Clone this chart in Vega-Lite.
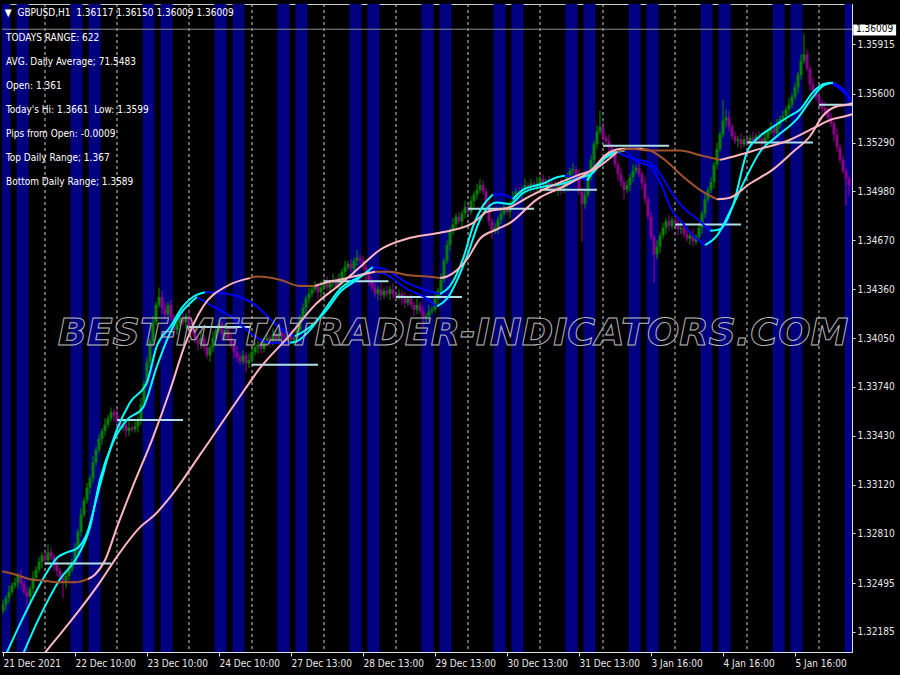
{
"$schema":"https://vega.github.io/schema/vega-lite/v6.json",
"width":850,"height":648,"autosize":{"type":"none"},
"padding":{"left":2,"top":4,"right":48,"bottom":23},
"background":"#000000",
"config":{"view":{"stroke":"#c8c8c8","strokeWidth":1},"font":"Liberation Sans Narrow, DejaVu Sans Condensed, sans-serif"},
"resolve":{"axis":{"x":"independent","y":"independent"}},
"datasets":{
"bands":[{"b0":-1.5,"b1":2.5},{"b0":4.5,"b1":8.5},{"b0":22.5,"b1":26.5},{"b0":28.5,"b1":32.5},{"b0":46.5,"b1":50.5},{"b0":52.5,"b1":56.5},{"b0":70.5,"b1":74.5},{"b0":76.5,"b1":80.5},{"b0":91.5,"b1":95.5},{"b0":97.5,"b1":101.5},{"b0":115.5,"b1":119.5},{"b0":121.5,"b1":125.5},{"b0":139.5,"b1":143.5},{"b0":145.5,"b1":149.5},{"b0":163.5,"b1":167.5},{"b0":169.5,"b1":173.5},{"b0":187.5,"b1":191.5},{"b0":193.5,"b1":197.5},{"b0":208.5,"b1":212.5},{"b0":214.5,"b1":218.5},{"b0":232.5,"b1":236.5},{"b0":238.5,"b1":242.5},{"b0":256.5,"b1":260.5},{"b0":262.5,"b1":266.5},{"b0":280.5,"b1":284.5}],
"seps":[{"i":14},{"i":38},{"i":62},{"i":83},{"i":107},{"i":131},{"i":155},{"i":179},{"i":200},{"i":224},{"i":248},{"i":272}],
"levels":[{"a":14,"b":36,"p":1.3262},{"a":38,"b":60,"p":1.3353},{"a":62,"b":82.5,"p":1.3412},{"a":83,"b":105,"p":1.3388},{"a":107,"b":128.5,"p":1.3441},{"a":131,"b":153,"p":1.3431},{"a":155,"b":177,"p":1.3487},{"a":179,"b":198,"p":1.3499},{"a":200,"b":222,"p":1.3527},{"a":224,"b":246,"p":1.3477},{"a":248,"b":270,"p":1.3529},{"a":272,"b":283,"p":1.3553}],
"cdl":[
{"i":0,"o":1.3232,"h":1.3239,"l":1.3230,"c":1.3236},{"i":1,"o":1.3236,"h":1.3242,"l":1.3232,"c":1.3240},{"i":2,"o":1.3240,"h":1.3248,"l":1.3237,"c":1.3244},{"i":3,"o":1.3244,"h":1.3250,"l":1.3242,"c":1.3248},{"i":4,"o":1.3248,"h":1.3253,"l":1.3246,"c":1.3250},{"i":5,"o":1.3250,"h":1.3256,"l":1.3246,"c":1.3254},{"i":6,"o":1.3254,"h":1.3258,"l":1.3246,"c":1.3249},{"i":7,"o":1.3249,"h":1.3251,"l":1.3242,"c":1.3244},{"i":8,"o":1.3244,"h":1.3247,"l":1.3231,"c":1.3241},{"i":9,"o":1.3241,"h":1.3248,"l":1.3237,"c":1.3246},
{"i":10,"o":1.3246,"h":1.3257,"l":1.3243,"c":1.3253},{"i":11,"o":1.3253,"h":1.3260,"l":1.3251,"c":1.3258},{"i":12,"o":1.3258,"h":1.3266,"l":1.3256,"c":1.3263},{"i":13,"o":1.3263,"h":1.3269,"l":1.3259,"c":1.3267},{"i":14,"o":1.3267,"h":1.3271,"l":1.3261,"c":1.3264},{"i":15,"o":1.3264,"h":1.3274,"l":1.3262,"c":1.3269},{"i":16,"o":1.3269,"h":1.3272,"l":1.3264,"c":1.3266},{"i":17,"o":1.3266,"h":1.3268,"l":1.3257,"c":1.3261},{"i":18,"o":1.3261,"h":1.3265,"l":1.3254,"c":1.3257},{"i":19,"o":1.3257,"h":1.3259,"l":1.3251,"c":1.3253},
{"i":20,"o":1.3253,"h":1.3256,"l":1.3240,"c":1.3250},{"i":21,"o":1.3250,"h":1.3256,"l":1.3246,"c":1.3254},{"i":22,"o":1.3254,"h":1.3262,"l":1.3251,"c":1.3258},{"i":23,"o":1.3258,"h":1.3265,"l":1.3256,"c":1.3263},{"i":24,"o":1.3263,"h":1.3275,"l":1.3261,"c":1.3272},{"i":25,"o":1.3272,"h":1.3284,"l":1.3268,"c":1.3282},{"i":26,"o":1.3282,"h":1.3297,"l":1.3279,"c":1.3293},{"i":27,"o":1.3293,"h":1.3304,"l":1.3291,"c":1.3302},{"i":28,"o":1.3302,"h":1.3313,"l":1.3300,"c":1.3310},{"i":29,"o":1.3310,"h":1.3318,"l":1.3306,"c":1.3316},
{"i":30,"o":1.3316,"h":1.3330,"l":1.3313,"c":1.3326},{"i":31,"o":1.3326,"h":1.3336,"l":1.3324,"c":1.3334},{"i":32,"o":1.3334,"h":1.3344,"l":1.3332,"c":1.3341},{"i":33,"o":1.3341,"h":1.3348,"l":1.3337,"c":1.3346},{"i":34,"o":1.3346,"h":1.3354,"l":1.3343,"c":1.3350},{"i":35,"o":1.3350,"h":1.3356,"l":1.3348,"c":1.3354},{"i":36,"o":1.3354,"h":1.3361,"l":1.3352,"c":1.3358},{"i":37,"o":1.3358,"h":1.3360,"l":1.3352,"c":1.3356},{"i":38,"o":1.3356,"h":1.3360,"l":1.3349,"c":1.3352},{"i":39,"o":1.3352,"h":1.3354,"l":1.3346,"c":1.3348},
{"i":40,"o":1.3348,"h":1.3353,"l":1.3346,"c":1.3350},{"i":41,"o":1.3350,"h":1.3352,"l":1.3342,"c":1.3346},{"i":42,"o":1.3346,"h":1.3352,"l":1.3343,"c":1.3348},{"i":43,"o":1.3348,"h":1.3350,"l":1.3345,"c":1.3347},{"i":44,"o":1.3347,"h":1.3352,"l":1.3345,"c":1.3349},{"i":45,"o":1.3349,"h":1.3355,"l":1.3345,"c":1.3353},{"i":46,"o":1.3353,"h":1.3367,"l":1.3350,"c":1.3363},{"i":47,"o":1.3363,"h":1.3378,"l":1.3361,"c":1.3376},{"i":48,"o":1.3376,"h":1.3393,"l":1.3374,"c":1.3390},{"i":49,"o":1.3390,"h":1.3405,"l":1.3386,"c":1.3403},
{"i":50,"o":1.3403,"h":1.3419,"l":1.3400,"c":1.3415},{"i":51,"o":1.3415,"h":1.3428,"l":1.3413,"c":1.3426},{"i":52,"o":1.3426,"h":1.3437,"l":1.3424,"c":1.3431},{"i":53,"o":1.3431,"h":1.3435,"l":1.3420,"c":1.3424},{"i":54,"o":1.3424,"h":1.3428,"l":1.3417,"c":1.3420},{"i":55,"o":1.3420,"h":1.3428,"l":1.3418,"c":1.3426},{"i":56,"o":1.3426,"h":1.3429,"l":1.3416,"c":1.3418},{"i":57,"o":1.3418,"h":1.3420,"l":1.3406,"c":1.3410},{"i":58,"o":1.3410,"h":1.3418,"l":1.3407,"c":1.3414},{"i":59,"o":1.3414,"h":1.3420,"l":1.3412,"c":1.3418},
{"i":60,"o":1.3418,"h":1.3421,"l":1.3413,"c":1.3415},{"i":61,"o":1.3415,"h":1.3421,"l":1.3411,"c":1.3419},{"i":62,"o":1.3419,"h":1.3423,"l":1.3411,"c":1.3414},{"i":63,"o":1.3414,"h":1.3416,"l":1.3407,"c":1.3409},{"i":64,"o":1.3409,"h":1.3412,"l":1.3402,"c":1.3404},{"i":65,"o":1.3404,"h":1.3406,"l":1.3397,"c":1.3401},{"i":66,"o":1.3401,"h":1.3409,"l":1.3398,"c":1.3405},{"i":67,"o":1.3405,"h":1.3407,"l":1.3397,"c":1.3399},{"i":68,"o":1.3399,"h":1.3402,"l":1.3392,"c":1.3394},{"i":69,"o":1.3394,"h":1.3401,"l":1.3390,"c":1.3399},
{"i":70,"o":1.3399,"h":1.3409,"l":1.3396,"c":1.3405},{"i":71,"o":1.3405,"h":1.3412,"l":1.3403,"c":1.3410},{"i":72,"o":1.3410,"h":1.3417,"l":1.3408,"c":1.3414},{"i":73,"o":1.3414,"h":1.3416,"l":1.3403,"c":1.3407},{"i":74,"o":1.3407,"h":1.3414,"l":1.3404,"c":1.3410},{"i":75,"o":1.3410,"h":1.3412,"l":1.3403,"c":1.3405},{"i":76,"o":1.3405,"h":1.3408,"l":1.3399,"c":1.3401},{"i":77,"o":1.3401,"h":1.3403,"l":1.3392,"c":1.3396},{"i":78,"o":1.3396,"h":1.3400,"l":1.3390,"c":1.3393},{"i":79,"o":1.3393,"h":1.3395,"l":1.3388,"c":1.3390},
{"i":80,"o":1.3390,"h":1.3397,"l":1.3388,"c":1.3394},{"i":81,"o":1.3394,"h":1.3396,"l":1.3383,"c":1.3389},{"i":82,"o":1.3389,"h":1.3395,"l":1.3386,"c":1.3391},{"i":83,"o":1.3391,"h":1.3398,"l":1.3389,"c":1.3396},{"i":84,"o":1.3396,"h":1.3402,"l":1.3394,"c":1.3399},{"i":85,"o":1.3399,"h":1.3403,"l":1.3395,"c":1.3401},{"i":86,"o":1.3401,"h":1.3405,"l":1.3395,"c":1.3398},{"i":87,"o":1.3398,"h":1.3405,"l":1.3396,"c":1.3403},{"i":88,"o":1.3403,"h":1.3408,"l":1.3401,"c":1.3405},{"i":89,"o":1.3405,"h":1.3407,"l":1.3399,"c":1.3403},
{"i":90,"o":1.3403,"h":1.3411,"l":1.3400,"c":1.3407},{"i":91,"o":1.3407,"h":1.3409,"l":1.3402,"c":1.3404},{"i":92,"o":1.3404,"h":1.3411,"l":1.3402,"c":1.3408},{"i":93,"o":1.3408,"h":1.3410,"l":1.3401,"c":1.3405},{"i":94,"o":1.3405,"h":1.3409,"l":1.3400,"c":1.3403},{"i":95,"o":1.3403,"h":1.3409,"l":1.3401,"c":1.3407},{"i":96,"o":1.3407,"h":1.3410,"l":1.3402,"c":1.3404},{"i":97,"o":1.3404,"h":1.3407,"l":1.3400,"c":1.3405},{"i":98,"o":1.3405,"h":1.3414,"l":1.3402,"c":1.3410},{"i":99,"o":1.3410,"h":1.3420,"l":1.3408,"c":1.3418},
{"i":100,"o":1.3418,"h":1.3427,"l":1.3416,"c":1.3424},{"i":101,"o":1.3424,"h":1.3432,"l":1.3420,"c":1.3430},{"i":102,"o":1.3430,"h":1.3437,"l":1.3427,"c":1.3433},{"i":103,"o":1.3433,"h":1.3438,"l":1.3431,"c":1.3436},{"i":104,"o":1.3436,"h":1.3441,"l":1.3434,"c":1.3438},{"i":105,"o":1.3438,"h":1.3440,"l":1.3430,"c":1.3434},{"i":106,"o":1.3434,"h":1.3441,"l":1.3431,"c":1.3437},{"i":107,"o":1.3437,"h":1.3443,"l":1.3435,"c":1.3441},{"i":108,"o":1.3441,"h":1.3444,"l":1.3435,"c":1.3437},{"i":109,"o":1.3437,"h":1.3442,"l":1.3433,"c":1.3440},
{"i":110,"o":1.3440,"h":1.3446,"l":1.3437,"c":1.3442},{"i":111,"o":1.3442,"h":1.3444,"l":1.3436,"c":1.3438},{"i":112,"o":1.3438,"h":1.3446,"l":1.3436,"c":1.3443},{"i":113,"o":1.3443,"h":1.3449,"l":1.3439,"c":1.3447},{"i":114,"o":1.3447,"h":1.3454,"l":1.3444,"c":1.3450},{"i":115,"o":1.3450,"h":1.3454,"l":1.3448,"c":1.3452},{"i":116,"o":1.3452,"h":1.3455,"l":1.3447,"c":1.3449},{"i":117,"o":1.3449,"h":1.3456,"l":1.3445,"c":1.3454},{"i":118,"o":1.3454,"h":1.3461,"l":1.3451,"c":1.3456},{"i":119,"o":1.3456,"h":1.3458,"l":1.3452,"c":1.3454},
{"i":120,"o":1.3454,"h":1.3457,"l":1.3448,"c":1.3450},{"i":121,"o":1.3450,"h":1.3452,"l":1.3441,"c":1.3445},{"i":122,"o":1.3445,"h":1.3449,"l":1.3438,"c":1.3441},{"i":123,"o":1.3441,"h":1.3443,"l":1.3435,"c":1.3437},{"i":124,"o":1.3437,"h":1.3440,"l":1.3431,"c":1.3433},{"i":125,"o":1.3433,"h":1.3438,"l":1.3429,"c":1.3436},{"i":126,"o":1.3436,"h":1.3440,"l":1.3429,"c":1.3432},{"i":127,"o":1.3432,"h":1.3437,"l":1.3430,"c":1.3435},{"i":128,"o":1.3435,"h":1.3438,"l":1.3431,"c":1.3433},{"i":129,"o":1.3433,"h":1.3438,"l":1.3429,"c":1.3436},
{"i":130,"o":1.3436,"h":1.3440,"l":1.3430,"c":1.3433},{"i":131,"o":1.3433,"h":1.3435,"l":1.3429,"c":1.3431},{"i":132,"o":1.3431,"h":1.3436,"l":1.3429,"c":1.3433},{"i":133,"o":1.3433,"h":1.3435,"l":1.3426,"c":1.3430},{"i":134,"o":1.3430,"h":1.3434,"l":1.3424,"c":1.3427},{"i":135,"o":1.3427,"h":1.3432,"l":1.3425,"c":1.3430},{"i":136,"o":1.3430,"h":1.3433,"l":1.3424,"c":1.3426},{"i":137,"o":1.3426,"h":1.3428,"l":1.3419,"c":1.3423},{"i":138,"o":1.3423,"h":1.3430,"l":1.3420,"c":1.3426},{"i":139,"o":1.3426,"h":1.3428,"l":1.3420,"c":1.3422},
{"i":140,"o":1.3422,"h":1.3425,"l":1.3412,"c":1.3418},{"i":141,"o":1.3418,"h":1.3421,"l":1.3414,"c":1.3419},{"i":142,"o":1.3419,"h":1.3426,"l":1.3416,"c":1.3422},{"i":143,"o":1.3422,"h":1.3425,"l":1.3420,"c":1.3423},{"i":144,"o":1.3423,"h":1.3433,"l":1.3421,"c":1.3430},{"i":145,"o":1.3430,"h":1.3437,"l":1.3426,"c":1.3435},{"i":146,"o":1.3435,"h":1.3446,"l":1.3432,"c":1.3442},{"i":147,"o":1.3442,"h":1.3456,"l":1.3440,"c":1.3454},{"i":148,"o":1.3454,"h":1.3467,"l":1.3452,"c":1.3464},{"i":149,"o":1.3464,"h":1.3475,"l":1.3460,"c":1.3473},
{"i":150,"o":1.3473,"h":1.3481,"l":1.3470,"c":1.3477},{"i":151,"o":1.3477,"h":1.3484,"l":1.3475,"c":1.3482},{"i":152,"o":1.3482,"h":1.3485,"l":1.3477,"c":1.3479},{"i":153,"o":1.3479,"h":1.3486,"l":1.3475,"c":1.3484},{"i":154,"o":1.3484,"h":1.3492,"l":1.3481,"c":1.3488},{"i":155,"o":1.3488,"h":1.3490,"l":1.3483,"c":1.3485},{"i":156,"o":1.3485,"h":1.3495,"l":1.3483,"c":1.3492},{"i":157,"o":1.3492,"h":1.3498,"l":1.3488,"c":1.3496},{"i":158,"o":1.3496,"h":1.3503,"l":1.3493,"c":1.3499},{"i":159,"o":1.3499,"h":1.3506,"l":1.3497,"c":1.3502},
{"i":160,"o":1.3502,"h":1.3505,"l":1.3496,"c":1.3498},{"i":161,"o":1.3498,"h":1.3500,"l":1.3486,"c":1.3490},{"i":162,"o":1.3490,"h":1.3494,"l":1.3476,"c":1.3479},{"i":163,"o":1.3479,"h":1.3481,"l":1.3468,"c":1.3473},{"i":164,"o":1.3473,"h":1.3478,"l":1.3471,"c":1.3475},{"i":165,"o":1.3475,"h":1.3482,"l":1.3471,"c":1.3480},{"i":166,"o":1.3480,"h":1.3488,"l":1.3477,"c":1.3484},{"i":167,"o":1.3484,"h":1.3490,"l":1.3482,"c":1.3488},{"i":168,"o":1.3488,"h":1.3491,"l":1.3483,"c":1.3485},{"i":169,"o":1.3485,"h":1.3492,"l":1.3481,"c":1.3490},
{"i":170,"o":1.3490,"h":1.3498,"l":1.3487,"c":1.3494},{"i":171,"o":1.3494,"h":1.3500,"l":1.3492,"c":1.3498},{"i":172,"o":1.3498,"h":1.3501,"l":1.3494,"c":1.3496},{"i":173,"o":1.3496,"h":1.3501,"l":1.3492,"c":1.3499},{"i":174,"o":1.3499,"h":1.3506,"l":1.3496,"c":1.3502},{"i":175,"o":1.3502,"h":1.3504,"l":1.3497,"c":1.3499},{"i":176,"o":1.3499,"h":1.3506,"l":1.3497,"c":1.3503},{"i":177,"o":1.3503,"h":1.3505,"l":1.3497,"c":1.3501},{"i":178,"o":1.3501,"h":1.3507,"l":1.3498,"c":1.3503},{"i":179,"o":1.3503,"h":1.3508,"l":1.3501,"c":1.3506},
{"i":180,"o":1.3506,"h":1.3509,"l":1.3500,"c":1.3502},{"i":181,"o":1.3502,"h":1.3506,"l":1.3498,"c":1.3504},{"i":182,"o":1.3504,"h":1.3508,"l":1.3498,"c":1.3501},{"i":183,"o":1.3501,"h":1.3504,"l":1.3499,"c":1.3502},{"i":184,"o":1.3502,"h":1.3505,"l":1.3497,"c":1.3499},{"i":185,"o":1.3499,"h":1.3504,"l":1.3495,"c":1.3502},{"i":186,"o":1.3502,"h":1.3506,"l":1.3496,"c":1.3499},{"i":187,"o":1.3499,"h":1.3505,"l":1.3497,"c":1.3503},{"i":188,"o":1.3503,"h":1.3510,"l":1.3501,"c":1.3507},{"i":189,"o":1.3507,"h":1.3513,"l":1.3503,"c":1.3511},
{"i":190,"o":1.3511,"h":1.3516,"l":1.3508,"c":1.3512},{"i":191,"o":1.3512,"h":1.3514,"l":1.3507,"c":1.3509},{"i":192,"o":1.3509,"h":1.3512,"l":1.3496,"c":1.3498},{"i":193,"o":1.3498,"h":1.3500,"l":1.3466,"c":1.3490},{"i":194,"o":1.3490,"h":1.3499,"l":1.3487,"c":1.3496},{"i":195,"o":1.3496,"h":1.3509,"l":1.3494,"c":1.3507},{"i":196,"o":1.3507,"h":1.3521,"l":1.3505,"c":1.3518},{"i":197,"o":1.3518,"h":1.3530,"l":1.3514,"c":1.3528},{"i":198,"o":1.3528,"h":1.3540,"l":1.3525,"c":1.3536},{"i":199,"o":1.3536,"h":1.3549,"l":1.3534,"c":1.3539},
{"i":200,"o":1.3539,"h":1.3542,"l":1.3530,"c":1.3532},{"i":201,"o":1.3532,"h":1.3534,"l":1.3526,"c":1.3530},{"i":202,"o":1.3530,"h":1.3534,"l":1.3523,"c":1.3526},{"i":203,"o":1.3526,"h":1.3528,"l":1.3520,"c":1.3522},{"i":204,"o":1.3522,"h":1.3525,"l":1.3513,"c":1.3515},{"i":205,"o":1.3515,"h":1.3517,"l":1.3505,"c":1.3509},{"i":206,"o":1.3509,"h":1.3513,"l":1.3501,"c":1.3504},{"i":207,"o":1.3504,"h":1.3506,"l":1.3493,"c":1.3499},{"i":208,"o":1.3499,"h":1.3505,"l":1.3497,"c":1.3502},{"i":209,"o":1.3502,"h":1.3509,"l":1.3498,"c":1.3507},
{"i":210,"o":1.3507,"h":1.3515,"l":1.3504,"c":1.3511},{"i":211,"o":1.3511,"h":1.3515,"l":1.3509,"c":1.3513},{"i":212,"o":1.3513,"h":1.3516,"l":1.3507,"c":1.3509},{"i":213,"o":1.3509,"h":1.3511,"l":1.3499,"c":1.3503},{"i":214,"o":1.3503,"h":1.3507,"l":1.3490,"c":1.3493},{"i":215,"o":1.3493,"h":1.3495,"l":1.3480,"c":1.3482},{"i":216,"o":1.3482,"h":1.3485,"l":1.3467,"c":1.3469},{"i":217,"o":1.3469,"h":1.3471,"l":1.3440,"c":1.3458},{"i":218,"o":1.3458,"h":1.3467,"l":1.3455,"c":1.3463},{"i":219,"o":1.3463,"h":1.3472,"l":1.3459,"c":1.3470},
{"i":220,"o":1.3470,"h":1.3478,"l":1.3468,"c":1.3475},{"i":221,"o":1.3475,"h":1.3481,"l":1.3471,"c":1.3479},{"i":222,"o":1.3479,"h":1.3483,"l":1.3473,"c":1.3476},{"i":223,"o":1.3476,"h":1.3482,"l":1.3474,"c":1.3480},{"i":224,"o":1.3480,"h":1.3483,"l":1.3476,"c":1.3478},{"i":225,"o":1.3478,"h":1.3480,"l":1.3470,"c":1.3474},{"i":226,"o":1.3474,"h":1.3479,"l":1.3471,"c":1.3475},{"i":227,"o":1.3475,"h":1.3477,"l":1.3469,"c":1.3471},{"i":228,"o":1.3471,"h":1.3474,"l":1.3466,"c":1.3468},{"i":229,"o":1.3468,"h":1.3472,"l":1.3464,"c":1.3470},
{"i":230,"o":1.3470,"h":1.3474,"l":1.3463,"c":1.3466},{"i":231,"o":1.3466,"h":1.3471,"l":1.3464,"c":1.3469},{"i":232,"o":1.3469,"h":1.3478,"l":1.3467,"c":1.3475},{"i":233,"o":1.3475,"h":1.3486,"l":1.3471,"c":1.3484},{"i":234,"o":1.3484,"h":1.3497,"l":1.3481,"c":1.3493},{"i":235,"o":1.3493,"h":1.3501,"l":1.3491,"c":1.3499},{"i":236,"o":1.3499,"h":1.3507,"l":1.3497,"c":1.3504},{"i":237,"o":1.3504,"h":1.3517,"l":1.3500,"c":1.3515},{"i":238,"o":1.3515,"h":1.3529,"l":1.3512,"c":1.3525},{"i":239,"o":1.3525,"h":1.3536,"l":1.3523,"c":1.3534},
{"i":240,"o":1.3534,"h":1.3556,"l":1.3532,"c":1.3543},{"i":241,"o":1.3543,"h":1.3550,"l":1.3539,"c":1.3545},{"i":242,"o":1.3545,"h":1.3549,"l":1.3536,"c":1.3539},{"i":243,"o":1.3539,"h":1.3541,"l":1.3531,"c":1.3533},{"i":244,"o":1.3533,"h":1.3536,"l":1.3528,"c":1.3530},{"i":245,"o":1.3530,"h":1.3533,"l":1.3526,"c":1.3531},{"i":246,"o":1.3531,"h":1.3535,"l":1.3525,"c":1.3528},{"i":247,"o":1.3528,"h":1.3533,"l":1.3526,"c":1.3531},{"i":248,"o":1.3531,"h":1.3534,"l":1.3527,"c":1.3529},{"i":249,"o":1.3529,"h":1.3534,"l":1.3525,"c":1.3532},
{"i":250,"o":1.3532,"h":1.3536,"l":1.3527,"c":1.3530},{"i":251,"o":1.3530,"h":1.3535,"l":1.3528,"c":1.3533},{"i":252,"o":1.3533,"h":1.3536,"l":1.3529,"c":1.3531},{"i":253,"o":1.3531,"h":1.3533,"l":1.3525,"c":1.3529},{"i":254,"o":1.3529,"h":1.3536,"l":1.3526,"c":1.3532},{"i":255,"o":1.3532,"h":1.3538,"l":1.3530,"c":1.3536},{"i":256,"o":1.3536,"h":1.3542,"l":1.3534,"c":1.3539},{"i":257,"o":1.3539,"h":1.3541,"l":1.3531,"c":1.3535},{"i":258,"o":1.3535,"h":1.3544,"l":1.3532,"c":1.3540},{"i":259,"o":1.3540,"h":1.3546,"l":1.3538,"c":1.3544},
{"i":260,"o":1.3544,"h":1.3549,"l":1.3542,"c":1.3546},{"i":261,"o":1.3546,"h":1.3552,"l":1.3542,"c":1.3550},{"i":262,"o":1.3550,"h":1.3557,"l":1.3547,"c":1.3553},{"i":263,"o":1.3553,"h":1.3560,"l":1.3551,"c":1.3558},{"i":264,"o":1.3558,"h":1.3567,"l":1.3556,"c":1.3564},{"i":265,"o":1.3564,"h":1.3574,"l":1.3560,"c":1.3572},{"i":266,"o":1.3572,"h":1.3585,"l":1.3569,"c":1.3581},{"i":267,"o":1.3581,"h":1.3598,"l":1.3579,"c":1.3585},{"i":268,"o":1.3585,"h":1.3588,"l":1.3574,"c":1.3576},{"i":269,"o":1.3576,"h":1.3578,"l":1.3562,"c":1.3566},
{"i":270,"o":1.3566,"h":1.3570,"l":1.3559,"c":1.3562},{"i":271,"o":1.3562,"h":1.3564,"l":1.3556,"c":1.3558},{"i":272,"o":1.3558,"h":1.3561,"l":1.3552,"c":1.3554},{"i":273,"o":1.3554,"h":1.3556,"l":1.3547,"c":1.3551},{"i":274,"o":1.3551,"h":1.3555,"l":1.3546,"c":1.3549},{"i":275,"o":1.3549,"h":1.3551,"l":1.3543,"c":1.3545},{"i":276,"o":1.3545,"h":1.3548,"l":1.3539,"c":1.3541},{"i":277,"o":1.3541,"h":1.3543,"l":1.3530,"c":1.3534},{"i":278,"o":1.3534,"h":1.3538,"l":1.3523,"c":1.3526},{"i":279,"o":1.3526,"h":1.3528,"l":1.3516,"c":1.3518},
{"i":280,"o":1.3518,"h":1.3521,"l":1.3509,"c":1.3511},{"i":281,"o":1.3511,"h":1.3513,"l":1.3489,"c":1.3506},{"i":282,"o":1.3506,"h":1.3508,"l":1.3495,"c":1.3502}
],
"ma":[
{"s":"a1","k":"cyan","i":0,"p":1.3200},{"s":"a1","k":"cyan","i":6.3,"p":1.3226},{"s":"a1","k":"cyan","i":13.3,"p":1.3252},{"s":"a1","k":"cyan","i":18.3,"p":1.3266},{"s":"a1","k":"cyan","i":21.3,"p":1.3269},{"s":"a1","k":"cyan","i":25,"p":1.3272},{"s":"a1","k":"cyan","i":28,"p":1.3281},{"s":"a1","k":"cyan","i":31.3,"p":1.3304},{"s":"a1","k":"cyan","i":34.7,"p":1.3328},{"s":"a1","k":"cyan","i":38,"p":1.3347},{"s":"a1","k":"cyan","i":42.3,"p":1.3364},{"s":"a1","k":"cyan","i":48,"p":1.3377},{"s":"a1","k":"cyan","i":51.3,"p":1.3400},{"s":"a1","k":"cyan","i":55.7,"p":1.3412},{"s":"a1","k":"cyan","i":60,"p":1.3425},{"s":"a1","k":"cyan","i":63.3,"p":1.3431},{"s":"a1","k":"cyan","i":67.3,"p":1.3434},
{"s":"a2","k":"blue","i":67.3,"p":1.3434},{"s":"a2","k":"blue","i":74.7,"p":1.3433},{"s":"a2","k":"blue","i":79,"p":1.3431},{"s":"a2","k":"blue","i":84.7,"p":1.3425},{"s":"a2","k":"blue","i":89,"p":1.3417},{"s":"a2","k":"blue","i":93.3,"p":1.3410},{"s":"a2","k":"blue","i":97.3,"p":1.3406},
{"s":"a3","k":"cyan","i":97.3,"p":1.3406},{"s":"a3","k":"cyan","i":102.3,"p":1.3412},{"s":"a3","k":"cyan","i":108,"p":1.3423},{"s":"a3","k":"cyan","i":112.3,"p":1.3434},{"s":"a3","k":"cyan","i":118,"p":1.3442},{"s":"a3","k":"cyan","i":123.3,"p":1.3450},
{"s":"a4","k":"blue","i":123.3,"p":1.3450},{"s":"a4","k":"blue","i":126.7,"p":1.3449},{"s":"a4","k":"blue","i":134.7,"p":1.3440},{"s":"a4","k":"blue","i":140,"p":1.3436},{"s":"a4","k":"blue","i":145.7,"p":1.3433},
{"s":"a5","k":"cyan","i":145.7,"p":1.3433},{"s":"a5","k":"cyan","i":149,"p":1.3438},{"s":"a5","k":"cyan","i":153.3,"p":1.3455},{"s":"a5","k":"cyan","i":156.7,"p":1.3476},{"s":"a5","k":"cyan","i":160,"p":1.3489},{"s":"a5","k":"cyan","i":163.3,"p":1.3496},
{"s":"a6","k":"blue","i":163.3,"p":1.3496},{"s":"a6","k":"blue","i":166.7,"p":1.3496},{"s":"a6","k":"blue","i":170,"p":1.3493},
{"s":"a7","k":"cyan","i":170,"p":1.3493},{"s":"a7","k":"cyan","i":173.3,"p":1.3499},{"s":"a7","k":"cyan","i":180,"p":1.3503},{"s":"a7","k":"cyan","i":184.7,"p":1.3507},{"s":"a7","k":"cyan","i":187.3,"p":1.3508},
{"s":"a8","k":"blue","i":187.3,"p":1.3508},{"s":"a8","k":"blue","i":190.7,"p":1.3507},{"s":"a8","k":"blue","i":194.7,"p":1.3505},
{"s":"a9","k":"cyan","i":194.7,"p":1.3505},{"s":"a9","k":"cyan","i":198,"p":1.3514},{"s":"a9","k":"cyan","i":201.3,"p":1.3521},{"s":"a9","k":"cyan","i":204.7,"p":1.3523},
{"s":"a10","k":"blue","i":204.7,"p":1.3523},{"s":"a10","k":"blue","i":211.3,"p":1.3518},{"s":"a10","k":"blue","i":214.7,"p":1.3517},{"s":"a10","k":"blue","i":218,"p":1.3512},{"s":"a10","k":"blue","i":222.3,"p":1.3499},{"s":"a10","k":"blue","i":225.7,"p":1.3490},{"s":"a10","k":"blue","i":232.3,"p":1.3479},{"s":"a10","k":"blue","i":235.7,"p":1.3473},
{"s":"a11","k":"cyan","i":235.7,"p":1.3473},{"s":"a11","k":"cyan","i":239,"p":1.3474},{"s":"a11","k":"cyan","i":243.3,"p":1.3489},{"s":"a11","k":"cyan","i":248,"p":1.3523},{"s":"a11","k":"cyan","i":252.3,"p":1.3533},{"s":"a11","k":"cyan","i":256.7,"p":1.3539},{"s":"a11","k":"cyan","i":262.3,"p":1.3546},{"s":"a11","k":"cyan","i":265.7,"p":1.3550},{"s":"a11","k":"cyan","i":270,"p":1.3561},{"s":"a11","k":"cyan","i":273.3,"p":1.3566},{"s":"a11","k":"cyan","i":275.7,"p":1.3567},
{"s":"a12","k":"blue","i":275.7,"p":1.3567},{"s":"a12","k":"blue","i":279,"p":1.3563},{"s":"a12","k":"blue","i":281.3,"p":1.3559},{"s":"a12","k":"blue","i":283,"p":1.3555},
{"s":"b1","k":"cyan","i":5.7,"p":1.3200},{"s":"b1","k":"cyan","i":11.7,"p":1.3226},{"s":"b1","k":"cyan","i":19,"p":1.3252},{"s":"b1","k":"cyan","i":24.7,"p":1.3266},{"s":"b1","k":"cyan","i":29,"p":1.3285},{"s":"b1","k":"cyan","i":32.3,"p":1.3315},{"s":"b1","k":"cyan","i":36.7,"p":1.3339},{"s":"b1","k":"cyan","i":41.3,"p":1.3353},{"s":"b1","k":"cyan","i":46.7,"p":1.3361},{"s":"b1","k":"cyan","i":51.3,"p":1.3387},{"s":"b1","k":"cyan","i":54.7,"p":1.3404},{"s":"b1","k":"cyan","i":59,"p":1.3420},{"s":"b1","k":"cyan","i":62.3,"p":1.3427},{"s":"b1","k":"cyan","i":64.7,"p":1.3431},
{"s":"b2","k":"blue","i":64.7,"p":1.3431},{"s":"b2","k":"blue","i":70,"p":1.3425},{"s":"b2","k":"blue","i":75.7,"p":1.3419},{"s":"b2","k":"blue","i":81.3,"p":1.3410},{"s":"b2","k":"blue","i":85.7,"p":1.3404},{"s":"b2","k":"blue","i":89,"p":1.3402},{"s":"b2","k":"blue","i":95.7,"p":1.3402},
{"s":"b3","k":"cyan","i":95.7,"p":1.3402},{"s":"b3","k":"cyan","i":98,"p":1.3403},{"s":"b3","k":"cyan","i":102.3,"p":1.3410},{"s":"b3","k":"cyan","i":108,"p":1.3425},{"s":"b3","k":"cyan","i":112.3,"p":1.3436},{"s":"b3","k":"cyan","i":118,"p":1.3443},{"s":"b3","k":"cyan","i":122.3,"p":1.3447},
{"s":"b4","k":"blue","i":122.3,"p":1.3447},{"s":"b4","k":"blue","i":126.7,"p":1.3446},{"s":"b4","k":"blue","i":134.7,"p":1.3436},{"s":"b4","k":"blue","i":141.3,"p":1.3430},{"s":"b4","k":"blue","i":144.7,"p":1.3425},
{"s":"b5","k":"cyan","i":144.7,"p":1.3425},{"s":"b5","k":"cyan","i":148,"p":1.3430},{"s":"b5","k":"cyan","i":154.7,"p":1.3457},{"s":"b5","k":"cyan","i":159,"p":1.3480},{"s":"b5","k":"cyan","i":164.7,"p":1.3491},{"s":"b5","k":"cyan","i":169,"p":1.3490},{"s":"b5","k":"cyan","i":173.3,"p":1.3497},{"s":"b5","k":"cyan","i":180,"p":1.3501},{"s":"b5","k":"cyan","i":186.7,"p":1.3503},{"s":"b5","k":"cyan","i":191.3,"p":1.3506},{"s":"b5","k":"cyan","i":196.7,"p":1.3510},{"s":"b5","k":"cyan","i":200,"p":1.3518},{"s":"b5","k":"cyan","i":204.7,"p":1.3523},{"s":"b5","k":"cyan","i":207.3,"p":1.3524},
{"s":"b6","k":"blue","i":207.3,"p":1.3524},{"s":"b6","k":"blue","i":211.3,"p":1.3517},{"s":"b6","k":"blue","i":215.7,"p":1.3514},{"s":"b6","k":"blue","i":219,"p":1.3504},{"s":"b6","k":"blue","i":223.3,"p":1.3485},{"s":"b6","k":"blue","i":225.7,"p":1.3480},{"s":"b6","k":"blue","i":230,"p":1.3470},{"s":"b6","k":"blue","i":234,"p":1.3464},
{"s":"b7","k":"cyan","i":234,"p":1.3464},{"s":"b7","k":"cyan","i":238,"p":1.3470},{"s":"b7","k":"cyan","i":243.3,"p":1.3489},{"s":"b7","k":"cyan","i":248,"p":1.3508},{"s":"b7","k":"cyan","i":252.3,"p":1.3523},{"s":"b7","k":"cyan","i":258,"p":1.3533},{"s":"b7","k":"cyan","i":264.7,"p":1.3544},{"s":"b7","k":"cyan","i":270,"p":1.3558},{"s":"b7","k":"cyan","i":273.3,"p":1.3565},{"s":"b7","k":"cyan","i":276.7,"p":1.3567},
{"s":"b8","k":"blue","i":276.7,"p":1.3567},{"s":"b8","k":"blue","i":280,"p":1.3563},{"s":"b8","k":"blue","i":281.3,"p":1.3560},{"s":"b8","k":"blue","i":283,"p":1.3555},
{"s":"c1","k":"brown","i":-0.3,"p":1.3257},{"s":"c1","k":"brown","i":4,"p":1.3255},{"s":"c1","k":"brown","i":9,"p":1.3252},{"s":"c1","k":"brown","i":14,"p":1.3251},{"s":"c1","k":"brown","i":19,"p":1.3250},{"s":"c1","k":"brown","i":24,"p":1.3250},{"s":"c1","k":"brown","i":28.3,"p":1.3252},
{"s":"c2","k":"pink","i":28.3,"p":1.3252},{"s":"c2","k":"pink","i":30.7,"p":1.3255},{"s":"c2","k":"pink","i":34,"p":1.3264},{"s":"c2","k":"pink","i":38,"p":1.3285},{"s":"c2","k":"pink","i":43.3,"p":1.3311},{"s":"c2","k":"pink","i":50,"p":1.3342},{"s":"c2","k":"pink","i":55.7,"p":1.3372},{"s":"c2","k":"pink","i":60.7,"p":1.3401},{"s":"c2","k":"pink","i":66.7,"p":1.3425},{"s":"c2","k":"pink","i":74.7,"p":1.3438},{"s":"c2","k":"pink","i":82.3,"p":1.3443},
{"s":"c3","k":"brown","i":82.3,"p":1.3443},{"s":"c3","k":"brown","i":84.7,"p":1.3444},{"s":"c3","k":"brown","i":92.3,"p":1.3442},{"s":"c3","k":"brown","i":99,"p":1.3438},{"s":"c3","k":"brown","i":104,"p":1.3438},
{"s":"c4","k":"pink","i":104,"p":1.3438},{"s":"c4","k":"pink","i":107.3,"p":1.3440},{"s":"c4","k":"pink","i":112.3,"p":1.3442},{"s":"c4","k":"pink","i":119,"p":1.3445},{"s":"c4","k":"pink","i":124,"p":1.3447},
{"s":"c5","k":"brown","i":124,"p":1.3447},{"s":"c5","k":"brown","i":129,"p":1.3447},{"s":"c5","k":"brown","i":134.7,"p":1.3445},{"s":"c5","k":"brown","i":141.3,"p":1.3444},{"s":"c5","k":"brown","i":145.7,"p":1.3443},
{"s":"c6","k":"pink","i":145.7,"p":1.3443},{"s":"c6","k":"pink","i":148,"p":1.3444},{"s":"c6","k":"pink","i":154.7,"p":1.3455},{"s":"c6","k":"pink","i":159,"p":1.3468},{"s":"c6","k":"pink","i":164.7,"p":1.3474},{"s":"c6","k":"pink","i":169,"p":1.3478},{"s":"c6","k":"pink","i":178,"p":1.3493},{"s":"c6","k":"pink","i":186.7,"p":1.3501},{"s":"c6","k":"pink","i":195.7,"p":1.3511},{"s":"c6","k":"pink","i":202.3,"p":1.3523},{"s":"c6","k":"pink","i":206.7,"p":1.3525},{"s":"c6","k":"pink","i":213.3,"p":1.3525},
{"s":"c7","k":"brown","i":213.3,"p":1.3525},{"s":"c7","k":"brown","i":215.7,"p":1.3524},{"s":"c7","k":"brown","i":221.3,"p":1.3517},{"s":"c7","k":"brown","i":225.7,"p":1.3509},{"s":"c7","k":"brown","i":232.3,"p":1.3499},{"s":"c7","k":"brown","i":238,"p":1.3493},
{"s":"c8","k":"pink","i":238,"p":1.3493},{"s":"c8","k":"pink","i":242.3,"p":1.3494},{"s":"c8","k":"pink","i":249,"p":1.3503},{"s":"c8","k":"pink","i":256.7,"p":1.3512},{"s":"c8","k":"pink","i":263.3,"p":1.3523},{"s":"c8","k":"pink","i":269,"p":1.3533},{"s":"c8","k":"pink","i":273.3,"p":1.3546},{"s":"c8","k":"pink","i":278,"p":1.3552},{"s":"c8","k":"pink","i":281.3,"p":1.3553},{"s":"c8","k":"pink","i":283,"p":1.3554},
{"s":"d1","k":"pink","i":11.7,"p":1.3200},{"s":"d1","k":"pink","i":19,"p":1.3217},{"s":"d1","k":"pink","i":25.7,"p":1.3233},{"s":"d1","k":"pink","i":32.3,"p":1.3250},{"s":"d1","k":"pink","i":39,"p":1.3269},{"s":"d1","k":"pink","i":45.7,"p":1.3285},{"s":"d1","k":"pink","i":50.7,"p":1.3293},{"s":"d1","k":"pink","i":55.7,"p":1.3304},{"s":"d1","k":"pink","i":65.7,"p":1.3331},{"s":"d1","k":"pink","i":78.3,"p":1.3366},{"s":"d1","k":"pink","i":85.7,"p":1.3386},{"s":"d1","k":"pink","i":95.7,"p":1.3407},{"s":"d1","k":"pink","i":104,"p":1.3426},{"s":"d1","k":"pink","i":112.3,"p":1.3439},{"s":"d1","k":"pink","i":119,"p":1.3450},{"s":"d1","k":"pink","i":125.7,"p":1.3461},{"s":"d1","k":"pink","i":134.7,"p":1.3468},{"s":"d1","k":"pink","i":143.3,"p":1.3471},{"s":"d1","k":"pink","i":149,"p":1.3473},{"s":"d1","k":"pink","i":156.7,"p":1.3478},{"s":"d1","k":"pink","i":161.3,"p":1.3485},{"s":"d1","k":"pink","i":169,"p":1.3488},{"s":"d1","k":"pink","i":175.7,"p":1.3495},{"s":"d1","k":"pink","i":182.3,"p":1.3501},{"s":"d1","k":"pink","i":191.3,"p":1.3508},{"s":"d1","k":"pink","i":198,"p":1.3513},{"s":"d1","k":"pink","i":204.7,"p":1.3523},
{"s":"d2","k":"brown","i":204.7,"p":1.3523},{"s":"d2","k":"brown","i":209,"p":1.3525},{"s":"d2","k":"brown","i":215.7,"p":1.3524},{"s":"d2","k":"brown","i":225.7,"p":1.3524},{"s":"d2","k":"brown","i":232.3,"p":1.3521},{"s":"d2","k":"brown","i":239,"p":1.3518},
{"s":"d3","k":"pink","i":239,"p":1.3518},{"s":"d3","k":"pink","i":243.3,"p":1.3520},{"s":"d3","k":"pink","i":252.3,"p":1.3525},{"s":"d3","k":"pink","i":261.3,"p":1.3530},{"s":"d3","k":"pink","i":270,"p":1.3538},{"s":"d3","k":"pink","i":276.7,"p":1.3544},{"s":"d3","k":"pink","i":281.3,"p":1.3546},{"s":"d3","k":"pink","i":283,"p":1.3547}
]
},
"layer":[
{"data":{"name":"bands"},"mark":{"type":"rect","color":"#000080","clip":true},
 "encoding":{"x":{"field":"b0","type":"quantitative","scale":{"domain":[-0.33,283],"nice":false,"zero":false},"axis":null},"x2":{"field":"b1"}}},
{"data":{"name":"seps"},"mark":{"type":"rule","color":"#d0d0d0","strokeWidth":1,"strokeDash":[3,3]},
 "encoding":{"x":{"field":"i","type":"quantitative","scale":{"domain":[-0.33,283],"nice":false,"zero":false},"axis":null}}},
{"data":{"name":"cdl"},"mark":{"type":"rule","strokeWidth":1,"clip":true},
 "encoding":{
  "x":{"field":"i","type":"quantitative","scale":{"domain":[-0.33,283],"nice":false,"zero":false},
   "axis":{"title":null,"grid":false,"values":[0,24,48,72,96,120,144,168,192,216,240,264],
    "labelExpr":"['21 Dec 2021','22 Dec 10:00','23 Dec 10:00','24 Dec 10:00','27 Dec 13:00','28 Dec 13:00','29 Dec 13:00','30 Dec 13:00','31 Dec 13:00','3 Jan 16:00','4 Jan 16:00','5 Jan 16:00'][round(datum.value/24)]",
    "labelAlign":"left","labelBaseline":"top","labelPadding":2,"tickSize":4,"tickColor":"#e0e0e0","domainColor":"#e0e0e0","labelColor":"#e8e8e8","labelFontSize":10,"labelOverlap":false,"labelBound":false,"labelFlush":false}},
  "y":{"field":"l","type":"quantitative","scale":{"domain":[1.32058,1.36169],"nice":false,"zero":false},
   "axis":{"title":null,"grid":false,"orient":"right","values":[1.32185,1.32495,1.3281,1.3312,1.3343,1.3374,1.3405,1.3436,1.3467,1.3498,1.3529,1.356,1.35915],
    "format":".5f","labelAlign":"left","labelPadding":2,"tickSize":3,"tickColor":"#e0e0e0","domainColor":"#e0e0e0","labelColor":"#e8e8e8","labelFontSize":10,"labelOverlap":false,"labelBound":false,"labelFlush":false}},
  "y2":{"field":"h"},
  "color":{"condition":{"test":"datum.c >= datum.o","value":"#0a8c0a"},"value":"#960a96"}}},
{"data":{"name":"cdl"},"mark":{"type":"rule","strokeWidth":3,"clip":true},
 "encoding":{"x":{"field":"i","type":"quantitative","scale":{"domain":[-0.33,283],"nice":false,"zero":false},"axis":null},
  "y":{"field":"o","type":"quantitative","scale":{"domain":[1.32058,1.36169],"nice":false,"zero":false},"axis":null},
  "y2":{"field":"c"},
  "color":{"condition":{"test":"datum.c >= datum.o","value":"#008000"},"value":"#8b008b"}}},
{"data":{"name":"levels"},"mark":{"type":"rule","color":"#b0e0e6","strokeWidth":2,"clip":true},
 "encoding":{"x":{"field":"a","type":"quantitative","scale":{"domain":[-0.33,283],"nice":false,"zero":false},"axis":null},"x2":{"field":"b"},
  "y":{"field":"p","type":"quantitative","scale":{"domain":[1.32058,1.36169],"nice":false,"zero":false},"axis":null}}},
{"data":{"name":"ma"},"mark":{"type":"line","strokeWidth":2,"clip":true,"interpolate":"monotone"},
 "encoding":{"x":{"field":"i","type":"quantitative","scale":{"domain":[-0.33,283],"nice":false,"zero":false},"axis":null},
  "y":{"field":"p","type":"quantitative","scale":{"domain":[1.32058,1.36169],"nice":false,"zero":false},"axis":null},
  "color":{"field":"k","type":"nominal","scale":{"domain":["cyan","blue","pink","brown"],"range":["#00ffff","#0000ff","#ffb6c1","#a0522d"]},"legend":null},
  "detail":{"field":"s","type":"nominal"}}},
{"data":{"values":[{}]},"mark":{"type":"rule","color":"#8c8c8c","strokeWidth":1},
 "encoding":{"y":{"datum":1.36009,"type":"quantitative","scale":{"domain":[1.32058,1.36169],"nice":false,"zero":false},"axis":null}}},
{"data":{"values":[{}]},"mark":{"type":"text","text":"BEST-METATRADER-INDICATORS.COM","font":"DejaVu Sans","fontSize":38,"fontWeight":"bold","fontStyle":"italic","align":"center","baseline":"middle","fillOpacity":0,"stroke":"#b8b8b8","strokeWidth":1},
 "encoding":{"x":{"datum":150,"type":"quantitative","scale":{"domain":[-0.33,283],"nice":false,"zero":false},"axis":null},
  "y":{"datum":1.34075,"type":"quantitative","scale":{"domain":[1.32058,1.36169],"nice":false,"zero":false},"axis":null}}},
{"data":{"values":[{}]},"mark":{"type":"text","text":"▼\u00a0\u00a0GBPUSD,H1\u00a0\u00a01.36117 1.36150 1.36009 1.36009","align":"left","baseline":"middle","color":"#ffffff","fontSize":10},
 "encoding":{"x":{"datum":0.6,"type":"quantitative","scale":{"domain":[-0.33,283],"nice":false,"zero":false},"axis":null},
  "y":{"datum":1.36115,"type":"quantitative","scale":{"domain":[1.32058,1.36169],"nice":false,"zero":false},"axis":null}}},
{"data":{"values":[{}]},"mark":{"type":"text","text":["TODAYS RANGE: 622","AVG. Daily Average; 71.5483","Open: 1.361","Today's Hi: 1.3661\u00a0\u00a0Low: 1.3599","Pips from Open: -0.0009","Top Daily Range; 1.367","Bottom Daily Range; 1.3589"],"lineHeight":24,"align":"left","baseline":"middle","color":"#ffffff","fontSize":10},
 "encoding":{"x":{"datum":1,"type":"quantitative","scale":{"domain":[-0.33,283],"nice":false,"zero":false},"axis":null},
  "y":{"datum":1.35956,"type":"quantitative","scale":{"domain":[1.32058,1.36169],"nice":false,"zero":false},"axis":null}}},
{"data":{"values":[{}]},"mark":{"type":"rect","color":"#ffffff"},
 "encoding":{"x":{"datum":283.4,"type":"quantitative","scale":{"domain":[-0.33,283],"nice":false,"zero":false},"axis":null},"x2":{"datum":297.7},
  "y":{"datum":1.36039,"type":"quantitative","scale":{"domain":[1.32058,1.36169],"nice":false,"zero":false},"axis":null},"y2":{"datum":1.35969}}},
{"data":{"values":[{}]},"mark":{"type":"text","text":"1.36009","align":"center","baseline":"middle","color":"#000000","fontSize":10},
 "encoding":{"x":{"datum":290.5,"type":"quantitative","scale":{"domain":[-0.33,283],"nice":false,"zero":false},"axis":null},
  "y":{"datum":1.36009,"type":"quantitative","scale":{"domain":[1.32058,1.36169],"nice":false,"zero":false},"axis":null}}}
]
}
